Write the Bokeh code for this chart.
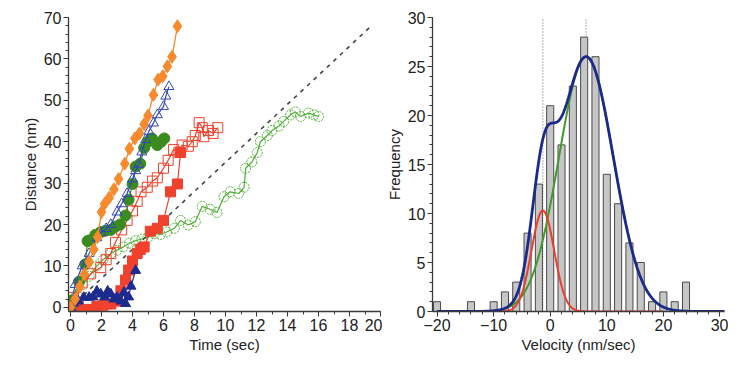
import numpy as np
from bokeh.plotting import figure
from bokeh.layouts import row
from bokeh.models import SingleIntervalTicker, Range1d
from bokeh.embed import file_html
from bokeh.resources import INLINE

# ---------------- Left panel data (Time sec, Distance nm) ----------------
orange_t = [0, 0.3, 0.6, 0.9, 1.2, 1.5, 1.75, 2.0, 2.2, 2.5, 2.8, 3.1, 3.5, 3.8, 4.15, 4.45, 4.75, 5.0, 5.35, 5.65, 5.95, 6.25, 6.55, 6.9]
orange_d = [0, 2, 5, 8, 11, 14, 17, 23, 25, 26.5, 28.5, 31, 34.7, 38.3, 40.8, 42, 44.2, 46.3, 51.3, 55, 55.8, 58.2, 60.5, 67.9]

tri_open_t = [0, 0.3, 0.75, 1.2, 1.7, 1.95, 2.3, 2.6, 3.0, 3.3, 3.65, 4.0, 4.2, 4.4, 4.6, 4.85, 5.05, 5.35, 5.6, 6.0, 6.15, 6.35]
tri_open_d = [0, 5.5, 10, 13, 16.8, 18, 19, 20, 23, 25, 27.5, 31, 33, 34.5, 37.5, 40.5, 42.5, 44.5, 46.5, 48.5, 51, 53.3]

circ_fill_t = [0, 0.1, 0.55, 0.95, 1.1, 1.25, 1.6, 1.95, 2.25, 2.6, 2.9, 3.2, 3.55, 3.75, 4.0, 4.2, 4.5, 4.75, 5.0, 5.25, 5.6, 5.85, 6.05]
circ_fill_d = [0, 1.7, 6.2, 10.4, 16, 16.2, 17.5, 18.2, 18.5, 18.7, 19.5, 20, 22.2, 26, 29.8, 34, 34.7, 38.5, 40, 40.8, 39.2, 40, 40.8]

sq_open_t = [0, 0.2, 0.75, 1.3, 1.95, 2.3, 2.6, 2.9, 3.3, 3.65, 4.0, 4.3, 4.55, 4.95, 5.3, 5.6, 6.0, 6.3, 6.65, 7.0, 7.2, 7.6, 7.85, 8.05, 8.3, 8.5, 8.6, 8.9, 9.2, 9.5]
sq_open_d = [0, 2.4, 5.9, 8.1, 9.6, 11.5, 13, 15.7, 18.7, 21, 23.3, 25.6, 27.9, 29, 30.5, 31.3, 33.6, 35.5, 38.1, 37.5, 39.2, 38.9, 40, 41.5, 44.6, 43.4, 41.2, 42.7, 42, 43.4]

sq_fill_t = [0, 0.5, 0.9, 1.3, 1.7, 2.1, 2.6, 3.0, 3.25, 3.55, 3.75, 4.0, 4.3, 4.5, 4.75, 5.15, 5.6, 6.0, 6.45, 6.9, 7.1]
sq_fill_d = [0, 0.3, -0.5, -0.5, 0.2, 0.5, 0.8, 1.5, 4, 6.6, 9, 11.2, 13, 14, 14.6, 18.4, 19.1, 21, 27.9, 29.8, 37.4]

tri_fill_t = [0, 0.2, 0.5, 0.85, 1.2, 1.45, 1.7, 1.95, 2.2, 2.4, 2.6, 2.8, 3.0, 3.25, 3.45, 3.55, 3.75, 3.9, 4.2]
tri_fill_d = [0, 1, 1.5, 2.4, 2.4, 2.5, 3.9, 3.2, 2.5, 3.9, 3.2, 2, 2.4, 1.5, 3.6, 0.9, 2.5, 5.1, 8.9]

circ_open_t = [0, 0.4, 0.8, 1.2, 1.7, 2.1, 2.6, 3.0, 3.4, 3.8, 4.2, 4.6, 5.0, 5.4, 5.8, 6.2, 6.7, 7.1, 7.6, 8.05, 8.5, 9.0, 9.45, 9.9, 10.3, 10.85, 11.2, 11.3, 11.7, 12.05, 12.25, 12.7, 13.0, 13.45, 13.75, 14.2, 14.5, 14.85, 15.35, 15.7, 16.0]
circ_open_d = [0, 3, 5.5, 7.5, 10, 11.5, 13, 13.8, 14.6, 15.5, 16.1, 16.5, 16.9, 17.8, 17.6, 18.2, 19.1, 21, 19.9, 20.7, 24.4, 23.7, 22.9, 26.7, 27.9, 27.5, 29, 33.6, 35.1, 37.4, 40, 41.5, 42.7, 43.8, 44.9, 46.5, 47.2, 46.1, 46.9, 46.5, 46.1]

ref_line_t = [0, 19.5]
ref_line_d = [0, 68.3]

# ---------------- Right panel data (Velocity histogram) ----------------
vel_bins = [-20, -14, -10, -8, -6, -4, -2, 0, 2, 4, 6, 8, 10, 12, 14, 16, 18, 20, 22, 24]
vel_freq = [1, 1, 1, 2, 3, 8, 13, 21, 17, 23, 28, 26, 14, 11, 7, 5, 1, 2, 1, 3]

# Gaussian fit parameters (amplitude, mean, sigma)
fit_slow = (10.3, -1.3, 2.0)
fit_fast = (26.0, 6.35, 4.8)
peak_marks = [-1.3, 6.35]

FONT = "Liberation Sans"
AX_COL = "#3a3a3a"


def style(p):
    for ax in (p.xaxis[0], p.yaxis[0]):
        ax.axis_line_color = AX_COL
        ax.axis_line_width = 1.3
        ax.major_tick_line_color = AX_COL
        ax.minor_tick_line_color = AX_COL
        ax.major_tick_out = 5
        ax.major_tick_in = 0
        ax.minor_tick_out = 3
        ax.minor_tick_in = 0
        ax.major_label_text_font = FONT
        ax.major_label_text_font_size = "16px"
        ax.major_label_text_color = "#222222"
        ax.axis_label_text_font = FONT
        ax.axis_label_text_font_size = "15px"
        ax.axis_label_text_font_style = "normal"
        ax.axis_label_text_color = "#222222"
        ax.axis_label_standoff = 2
        ax.major_label_standoff = 2
    p.xgrid.visible = False
    p.ygrid.visible = False
    p.outline_line_color = None
    p.background_fill_color = "white"
    p.border_fill_color = "white"


# ---------------- Left figure ----------------
p1 = figure(width=382, height=355, output_backend="svg", toolbar_location=None,
            x_range=Range1d(-0.13, 20.0), y_range=Range1d(-1, 70),
            min_border_left=68, min_border_right=2, min_border_top=17, min_border_bottom=38)
p1.xaxis.axis_label = "Time (sec)"
p1.yaxis.axis_label = "Distance (nm)"
p1.xaxis.ticker = SingleIntervalTicker(interval=2, num_minor_ticks=2)
p1.yaxis.ticker = SingleIntervalTicker(interval=10, num_minor_ticks=5)
style(p1)

GREEN_L = "#4fae34"
GREEN_D = "#3a8c1f"
RED = "#f0412c"
ORANGE = "#f68a2c"
BLUE_L = "#3346b8"
NAVY = "#1c2b8f"

p1.line(circ_open_t, circ_open_d, color=GREEN_L, line_width=1.2)
p1.scatter(circ_open_t, circ_open_d, marker="circle", size=10, fill_color=None,
           line_color=GREEN_L, line_width=1, line_dash="2 1")
p1.line(ref_line_t, ref_line_d, color="#444444", line_width=1.6, line_dash="4 5")
p1.line(sq_open_t, sq_open_d, color=RED, line_width=1.2)
p1.scatter(sq_open_t, sq_open_d, marker="square", size=10, fill_color=None,
           line_color=RED, line_width=1)
p1.line(sq_fill_t, sq_fill_d, color=RED, line_width=1.2)
p1.scatter(sq_fill_t, sq_fill_d, marker="square", size=10, fill_color=RED, line_color=RED)
p1.line(circ_fill_t, circ_fill_d, color=GREEN_D, line_width=1.2)
p1.scatter(circ_fill_t, circ_fill_d, marker="circle", size=11, fill_color=GREEN_D, line_color=GREEN_D)
p1.line(tri_fill_t, tri_fill_d, color=NAVY, line_width=1.2)
p1.scatter(tri_fill_t, tri_fill_d, marker="triangle", size=10, fill_color=NAVY, line_color=NAVY)
p1.line(tri_open_t, tri_open_d, color=BLUE_L, line_width=1.2)
p1.scatter(tri_open_t, tri_open_d, marker="triangle", size=10, fill_color=None,
           line_color=BLUE_L, line_width=1)
p1.line(orange_t, orange_d, color=ORANGE, line_width=1.3)
p1.scatter(orange_t, orange_d, marker="diamond", size=13, fill_color=ORANGE, line_color=ORANGE)

# ---------------- Right figure ----------------
p2 = figure(width=346, height=355, output_backend="svg", toolbar_location=None,
            x_range=Range1d(-20.8, 30.8), y_range=Range1d(0, 30),
            min_border_left=47, min_border_right=4, min_border_top=17, min_border_bottom=38)
p2.xaxis.axis_label = "Velocity (nm/sec)"
p2.yaxis.axis_label = "Frequency"
p2.xaxis.ticker = SingleIntervalTicker(interval=10, num_minor_ticks=5)
p2.yaxis.ticker = SingleIntervalTicker(interval=5, num_minor_ticks=5)
style(p2)

for xm in peak_marks:
    p2.line([xm, xm], [0, 30], color="#8a8a8a", line_width=1.3, line_dash="1 2")

p2.vbar(x=vel_bins, top=vel_freq, width=1.25, bottom=0,
        fill_color="#c6c6c6", line_color="#4a4a4a", line_width=1)


def gauss(xs, params):
    a, m, s = params
    return a * np.exp(-((xs - m) ** 2) / (2 * s * s))


xs_red = np.linspace(-10, 20, 400)
xs_green = np.linspace(-10, 31, 400)
xs_blue = np.linspace(-20, 30.8, 600)
p2.line(xs_green, gauss(xs_green, fit_fast), color="#3f9a2a", line_width=2)
p2.line(xs_red, gauss(xs_red, fit_slow), color="#ee3b2b", line_width=2)
p2.line(xs_blue, gauss(xs_blue, fit_slow) + gauss(xs_blue, fit_fast),
        color="#1b2a8a", line_width=2.8)

layout = row(p1, p2)
open("out.html", "w").write(file_html(layout, INLINE))
